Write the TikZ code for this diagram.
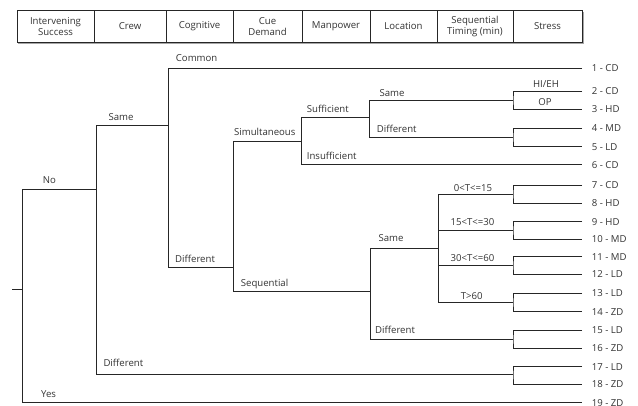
\documentclass[tikz,border=0pt]{standalone}
\usepackage{fontspec}
\setmainfont{Open Sans}
\begin{document}
\begin{tikzpicture}[x=1pt,y=-1pt,
  br/.style={draw=black!85, line width=0.75pt},
  lab/.style={font=\fontsize{9.6}{11}\selectfont, text=black!80, inner sep=0pt, anchor=base west},
  clab/.style={font=\fontsize{9.6}{11}\selectfont, text=black!80, inner sep=0pt, anchor=base},
  hcell/.style={draw=black!85, line width=0.75pt, minimum height=32pt, inner sep=0pt,
    font=\fontsize{9.6}{11.7}\selectfont, text=black!80, align=center}]
\useasboundingbox (0,0) rectangle (638,405);
\fill[white] (0,0) rectangle (638,405);
% header
\draw[black!35, line width=0.8pt] (18,43.6) -- (583.2,43.6) -- (583.2,11.5);
\node[hcell, minimum width=77pt] (h1) at (55.5,26.5) {Intervening\\Success};
\node[hcell, minimum width=72pt] (h2) at (130,26.5) {Crew};
\node[hcell, minimum width=67pt] (h3) at (199.5,26.5) {Cognitive};
\node[hcell, minimum width=69pt] (h4) at (267.5,26.5) {Cue\\Demand};
\node[hcell, minimum width=68pt] (h5) at (336,26.5) {Manpower};
\node[hcell, minimum width=67pt] (h6) at (403.5,26.5) {Location};
\node[hcell, minimum width=76pt] (h7) at (475,26.5) {Sequential\\Timing (min)};
\node[hcell, minimum width=69pt] (h8) at (547.5,26.5) {Stress};
% leaves
\foreach \k/\y/\t in {1/68.3/1 - CD, 2/91/2 - CD, 3/109.3/3 - HD, 4/128/4 - MD, 5/146.7/5 - LD,
  6/164.5/6 - CD, 7/185/7 - CD, 8/203/8 - HD, 9/221.7/9 - HD, 10/239.2/10 - MD,
  11/256.7/11 - MD, 12/274.3/12 - LD, 13/293.3/13 - LD, 14/311.7/14 - ZD,
  15/330/15 - LD, 16/348.3/16 - ZD, 17/366.7/17 - LD, 18/384/18 - ZD, 19/402.7/19 - ZD}{
  \coordinate (L\k) at (582,\y);
  \node[lab] (t\k) at (591.7,\y+3.5) {\t};
}
% branch points
\coordinate (R0) at (12,289);
\coordinate (R) at (22,289);
\coordinate (No) at (22,189);
\coordinate (Yes) at (22,402.7);
\coordinate (C) at (96,189);
\coordinate (CS) at (96,125.7);
\coordinate (CD) at (96,374.5);
\coordinate (G) at (168,125.7);
\coordinate (GC) at (168,68.3);
\coordinate (GD) at (168,267.7);
\coordinate (Q) at (233,267.7);
\coordinate (QS) at (233,141);
\coordinate (QQ) at (233,291.7);
\coordinate (M) at (301,141);
\coordinate (MS) at (301,117.3);
\coordinate (MI) at (301,164.5);
\coordinate (Lo) at (369,117.3);
\coordinate (LoS) at (369,100.2);
\coordinate (LoD) at (369,137.3);
\coordinate (S23) at (513,100.2);
\coordinate (S45) at (513,137.3);
\coordinate (P) at (370,291.7);
\coordinate (PS) at (370,248.3);
\coordinate (PD) at (370,339.2);
\coordinate (T) at (438,248.3);
\coordinate (T1) at (438,194);
\coordinate (T2) at (438,230.5);
\coordinate (T3) at (438,265.5);
\coordinate (T4) at (438,302.5);
\coordinate (S78) at (513,194);
\coordinate (S910) at (513,230.5);
\coordinate (S1112) at (513,265.5);
\coordinate (S1314) at (513,302.5);
\coordinate (S1516) at (513,339.2);
\coordinate (S1718) at (513,374.5);
% connectors
\draw[br] (R0) -- (R);
\draw[br] (C) -| (No) |- (L19);
\draw[br] (G) -| (CS) |- (S1718);
\draw[br] (L1) -| (GC) |- (Q);
\draw[br] (M) -| (QS) |- (P);
\draw[br] (Lo) -| (MS) |- (L6);
\draw[br] (S23) -| (LoS) |- (S45);
\draw[br] (T) -| (PS) |- (S1516);
\draw[br] (S78) -| (T1) |- (S1314);
\draw[br] (T2) -- (S910);
\draw[br] (T3) -- (S1112);
\draw[br] (L2) -| (S23) |- (L3);
\draw[br] (L4) -| (S45) |- (L5);
\draw[br] (L7) -| (S78) |- (L8);
\draw[br] (L9) -| (S910) |- (L10);
\draw[br] (L11) -| (S1112) |- (L12);
\draw[br] (L13) -| (S1314) |- (L14);
\draw[br] (L15) -| (S1516) |- (L16);
\draw[br] (L17) -| (S1718) |- (L18);
% branch labels
\node[lab] (lNo) at (42.7,183.5) {No};
\node[lab] (lYes) at (41,397.5) {Yes};
\node[lab] (lCS) at (108.3,120.8) {Same};
\node[lab] (lCD) at (103.3,366.8) {Different};
\node[lab] (lGC) at (175.7,61.5) {Common};
\node[lab] (lGD) at (175,262.5) {Different};
\node[lab] (lQS) at (234,135.8) {Simultaneous};
\node[lab] (lQQ) at (240.7,286.2) {Sequential};
\node[lab] (lMS) at (306.7,112.5) {Sufficient};
\node[lab] (lMI) at (306.7,159.2) {Insufficient};
\node[lab] (lLS) at (379.3,96.2) {Same};
\node[lab] (lLD) at (376.7,132.5) {Different};
\node[clab] (lHI) at (546,87.8) {HI/EH};
\node[clab] (lOP) at (545,105.8) {OP};
\node[lab] (lPS) at (378.3,241.8) {Same};
\node[lab] (lPD) at (375,333.5) {Different};
\node[clab] (lT1) at (473,191.2) {0<T<=15};
\node[clab] (lT2) at (472.5,225.2) {15<T<=30};
\node[clab] (lT3) at (472.5,261.2) {30<T<=60};
\node[clab] (lT4) at (471.7,299.2) {T>60};
\end{tikzpicture}
\end{document}
